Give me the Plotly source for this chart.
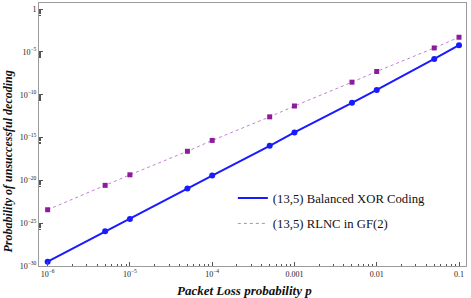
import plotly.graph_objects as go

p_vals = [1e-6, 5e-6, 1e-5, 5e-5, 1e-4, 5e-4, 1e-3, 5e-3, 1e-2, 5e-2, 1e-1]
xor_log = [-29.50, -25.95, -24.52, -20.96, -19.44, -15.96, -14.40, -10.94, -9.43, -5.81, -4.21]
rlnc_log = [-23.43, -20.58, -19.35, -16.60, -15.33, -12.58, -11.31, -8.53, -7.28, -4.53, -3.28]
xor_vals = [10 ** v for v in xor_log]
rlnc_vals = [10 ** v for v in rlnc_log]

x_tickvals = [1e-6, 1e-5, 1e-4, 1e-3, 1e-2, 1e-1]
x_ticktext = ["10<sup>\u22126</sup>", "10<sup>\u22125</sup>", "10<sup>\u22124</sup>", "0.001", "0.01", "0.1"]
y_tickvals = [1, 1e-5, 1e-10, 1e-15, 1e-20, 1e-25, 1e-30]
y_ticktext = ["1", "10<sup>\u22125</sup>", "10<sup>\u221210</sup>", "10<sup>\u221215</sup>",
              "10<sup>\u221220</sup>", "10<sup>\u221225</sup>", "10<sup>\u221230</sup>"]

names = ["(13,5) Balanced XOR Coding", "(13,5) RLNC in GF(2)"]

x_minor = [m * 10.0 ** k for k in range(-6, -1) for m in range(2, 10)]
y_minor = [m * 10.0 ** (k - 1) for k in [0, -5, -10, -15, -20, -25] for m in range(2, 10)]

SERIF = "Liberation Serif, Times New Roman, serif"
BLUE = "#1a1aff"
PURPLE_M = "#8e1a9e"
PURPLE_L = "#c27fd6"

fig = go.Figure()
fig.add_trace(go.Scatter(x=p_vals, y=xor_vals, mode="lines", name=names[0],
                         line=dict(color=BLUE, width=2), legendgroup="a"))
fig.add_trace(go.Scatter(x=p_vals, y=rlnc_vals, mode="lines", name=names[1],
                         line=dict(color=PURPLE_L, width=1, dash="dot"), legendgroup="b"))
fig.add_trace(go.Scatter(x=p_vals, y=xor_vals, mode="markers", showlegend=False,
                         marker=dict(color=BLUE, size=6, symbol="circle"), legendgroup="a"))
fig.add_trace(go.Scatter(x=p_vals, y=rlnc_vals, mode="markers", showlegend=False,
                         marker=dict(color=PURPLE_M, size=5, symbol="square"), legendgroup="b"))

axis_common = dict(showgrid=False, zeroline=False, showline=True, linecolor="#9a9a9a",
                   linewidth=1, mirror=True, ticks="inside", tickcolor="#555",
                   tickfont=dict(family=SERIF, size=8, color="#222"))

fig.update_xaxes(type="log", range=[-6.105, -0.915], tickmode="array",
                 tickvals=x_tickvals, ticktext=x_ticktext, ticklen=4,
                 minor=dict(tickmode="array", tickvals=x_minor, ticks="inside", ticklen=2,
                            tickcolor="#555"),
                 **axis_common)
fig.update_yaxes(type="log", range=[-30, 0.72], tickmode="array",
                 tickvals=y_tickvals, ticktext=y_ticktext, ticklen=4,
                 minor=dict(tickmode="array", tickvals=y_minor, ticks="inside", ticklen=2,
                            tickcolor="#555"),
                 **axis_common)

fig.update_layout(
    width=471, height=298,
    margin=dict(l=39, r=5, t=3, b=32),
    paper_bgcolor="white", plot_bgcolor="white",
    showlegend=True,
    legend=dict(x=0.454, y=0.315, xanchor="left", yanchor="top",
                font=dict(family=SERIF, size=12.7, color="#111"),
                bgcolor="rgba(0,0,0,0)", traceorder="grouped", tracegroupgap=6),
    annotations=[
        dict(text="Packet Loss probability p", xref="paper", yref="paper",
             x=0.4824, y=-0.0937, xanchor="center", yanchor="middle", showarrow=False,
             font=dict(family=SERIF, size=13, color="#111", weight="bold", style="italic")),
        dict(text="Probability of unsuccessful decoding", xref="paper", yref="paper",
             x=-0.0726, y=0.397, xanchor="center", yanchor="middle", showarrow=False,
             textangle=-90,
             font=dict(family=SERIF, size=12, color="#111", weight="bold", style="italic")),
    ],
)

fig.write_html("out.html", config={"displayModeBar": False},
               post_script="document.body.style.margin='0';document.body.style.overflow='hidden';")
